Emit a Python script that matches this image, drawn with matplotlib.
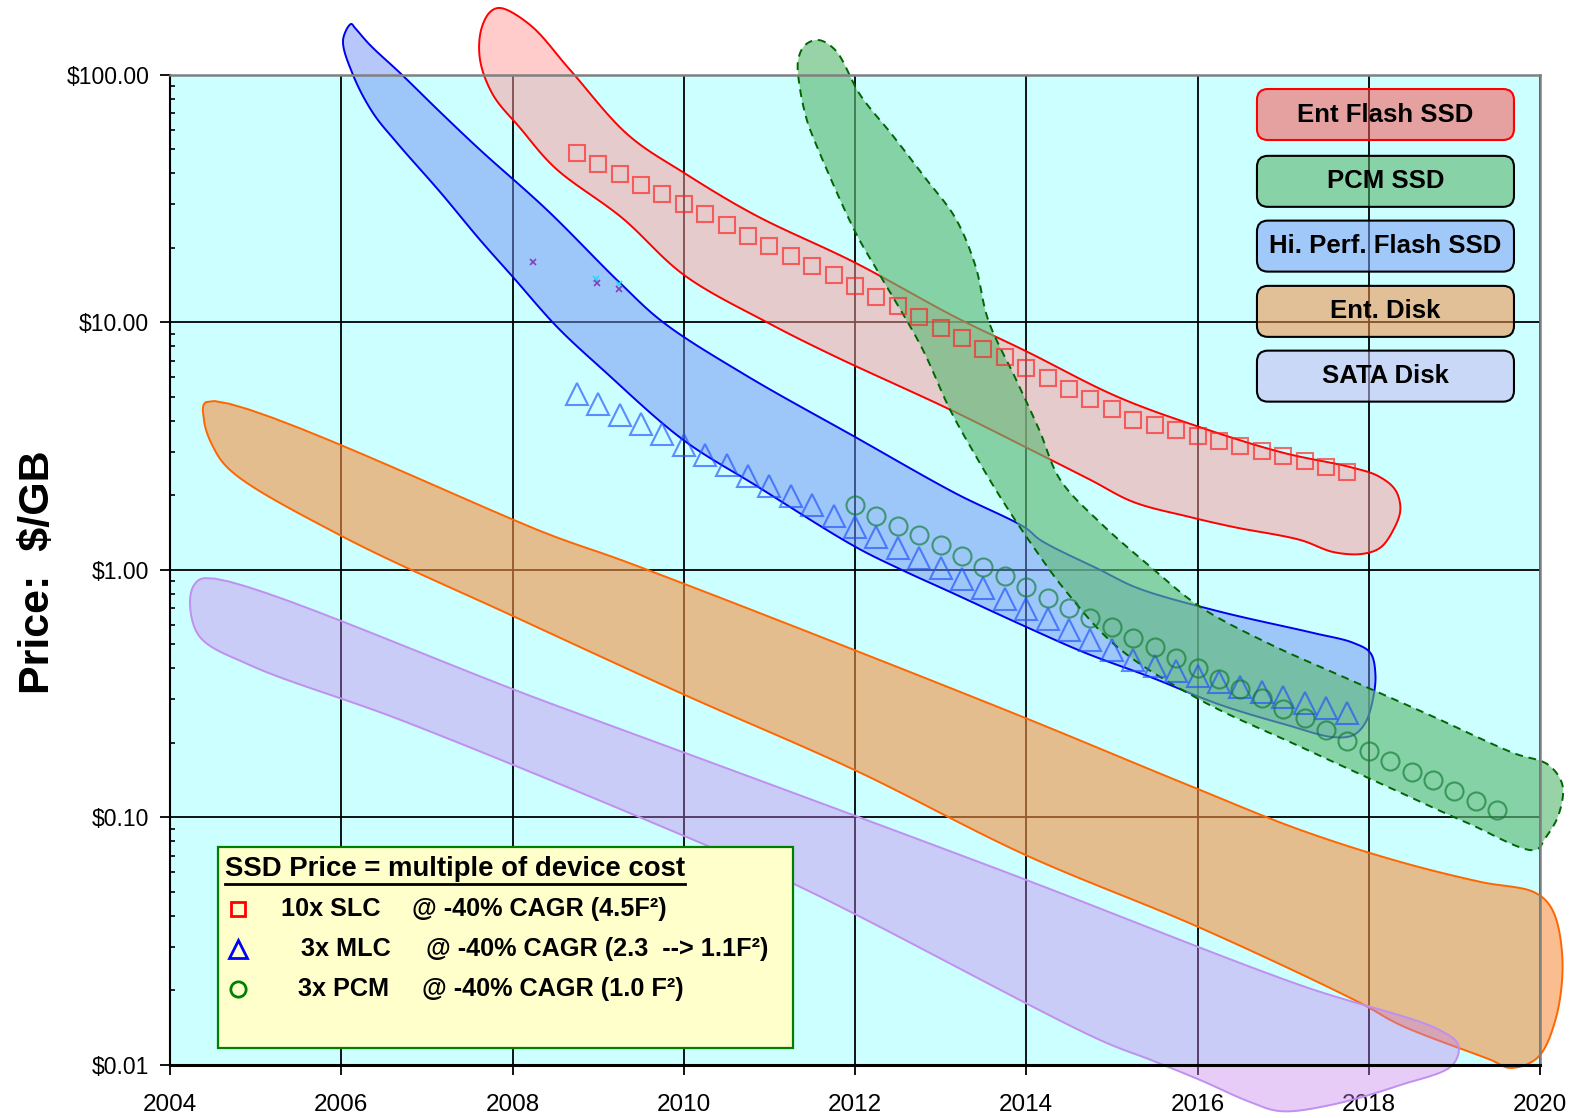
import numpy as np
import matplotlib
matplotlib.use("Agg")
import matplotlib.pyplot as plt
from matplotlib.patches import Polygon, FancyBboxPatch, Rectangle
from matplotlib.ticker import FixedLocator, LogLocator, NullFormatter

plt.rcParams['font.family'] = ['Liberation Sans', 'DejaVu Sans']

# ---------------- data ----------------
slc_years = [2008.75, 2009.0, 2009.25, 2009.5, 2009.75, 2010.0, 2010.25, 2010.5, 2010.75,
             2011.0, 2011.25, 2011.5, 2011.75, 2012.0, 2012.25, 2012.5, 2012.75, 2013.0,
             2013.25, 2013.5, 2013.75, 2014.0, 2014.25, 2014.5, 2014.75, 2015.0, 2015.25,
             2015.5, 2015.75, 2016.0, 2016.25, 2016.5, 2016.75, 2017.0, 2017.25, 2017.5, 2017.75]
slc_price = [48.2, 43.7, 39.6, 35.9, 33.1, 30.0, 27.3, 24.7, 22.4, 20.3, 18.5, 16.8, 15.5,
             14.0, 12.7, 11.6, 10.5, 9.51, 8.62, 7.82, 7.22, 6.56, 5.94, 5.39, 4.90, 4.45,
             4.03, 3.84, 3.66, 3.48, 3.32, 3.17, 3.02, 2.88, 2.74, 2.61, 2.49]

mlc_years = list(slc_years)
mlc_price = [5.15, 4.67, 4.23, 3.89, 3.53, 3.20, 2.92, 2.65, 2.40, 2.18, 1.98, 1.82, 1.65,
             1.49, 1.36, 1.23, 1.12, 1.02, 0.921, 0.843, 0.765, 0.697, 0.635, 0.574, 0.523,
             0.473, 0.431, 0.410, 0.392, 0.373, 0.354, 0.337, 0.321, 0.307, 0.291, 0.277, 0.265]

pcm_years = [2012.0, 2012.25, 2012.5, 2012.75, 2013.0, 2013.25, 2013.5, 2013.75, 2014.0,
             2014.25, 2014.5, 2014.75, 2015.0, 2015.25, 2015.5, 2015.75, 2016.0, 2016.25,
             2016.5, 2016.75, 2017.0, 2017.25, 2017.5, 2017.75, 2018.0, 2018.25, 2018.5,
             2018.75, 2019.0, 2019.25, 2019.5]
pcm_price = [1.83, 1.65, 1.50, 1.38, 1.26, 1.14, 1.03, 0.942, 0.853, 0.772, 0.702, 0.641,
             0.586, 0.533, 0.486, 0.440, 0.400, 0.362, 0.330, 0.303, 0.275, 0.252, 0.226,
             0.204, 0.186, 0.169, 0.153, 0.141, 0.128, 0.116, 0.107]

# stray marks
stray_years_purple = [2008.24, 2008.99, 2009.245]
stray_price_purple = [17.5, 14.4, 13.6]
stray_years_cyan = [2008.98, 2009.245]
stray_price_cyan = [15.0, 14.3]

# region outlines (year, $/GB)
ent_flash_years = [2007.855, 2008.206, 2008.673, 2009.350, 2010.005, 2010.834, 2012.002, 2013.171,
                   2014.008, 2015.060, 2016.009, 2017.002, 2017.785, 2018.112, 2018.311, 2018.369,
                   2018.287, 2018.136, 2017.925, 2017.586, 2017.201, 2016.418, 2015.893, 2015.250,
                   2014.748, 2014.008, 2013.121, 2011.730, 2010.986, 2010.005, 2009.280, 2008.498,
                   2008.089, 2007.773, 2007.621, 2007.633, 2007.738]
ent_flash_price = [186, 158.8, 104.5, 57.1, 40.1, 27.1, 17.4, 10.5, 7.61, 5.01, 3.79, 2.97, 2.60,
                   2.39, 2.10, 1.75, 1.45, 1.23, 1.16, 1.18, 1.32, 1.49, 1.64, 1.88, 2.31, 3.11,
                   4.42, 7.38, 9.94, 15.5, 26.4, 42.0, 60.9, 82.8, 114.7, 151.5, 179.1]

hiperf_years = [2006.115, 2006.021, 2006.138, 2006.371, 2006.652, 2007.154, 2007.621, 2008.007,
                2008.521, 2009.058, 2009.993, 2010.834, 2012.002, 2012.548, 2013.112, 2014.000,
                2014.689, 2015.449, 2016.266, 2017.049, 2017.586, 2017.820, 2017.960, 2018.054,
                2018.077, 2018.019, 2017.820, 2017.353, 2016.231, 2015.297, 2014.864, 2014.164,
                2013.988, 2013.171, 2012.002, 2010.717, 2009.759, 2009.257, 2008.404, 2007.621,
                2007.154, 2006.687, 2006.336, 2006.161]
hiperf_price = [160.3, 138.1, 99.7, 70.0, 53.0, 33.6, 21.5, 15.2, 9.57, 6.42, 3.35, 2.20, 1.24,
                0.999, 0.814, 0.588, 0.462, 0.369, 0.285, 0.236, 0.211, 0.215, 0.241, 0.307,
                0.383, 0.462, 0.507, 0.556, 0.682, 0.845, 0.999, 1.32, 1.48, 2.04, 3.44, 6.13,
                10.0, 14.4, 28.4, 49.7, 70.7, 101.6, 131.8, 154.4]

pcm_ssd_years = [2011.570, 2011.769, 2012.061, 2012.435, 2012.820, 2013.171, 2013.404, 2013.556,
                 2013.883, 2014.152, 2014.397, 2014.864, 2015.449, 2016.033, 2016.815, 2017.785,
                 2018.755, 2019.690, 2020.098, 2020.262, 2020.215, 2020.063, 2019.946, 2019.152,
                 2018.369, 2017.201, 2016.033, 2015.063, 2014.479, 2014.082, 2013.696, 2013.404,
                 2013.112, 2012.781, 2012.292, 2012.002, 2011.500, 2011.438, 2011.360, 2011.336,
                 2011.418]
pcm_ssd_price = [138.1, 125.8, 82.8, 57.1, 38.3, 26.4, 17.0, 10.2, 5.85, 3.67, 2.31, 1.55, 1.03,
                 0.708, 0.507, 0.359, 0.255, 0.182, 0.163, 0.135, 0.102, 0.0826, 0.0739, 0.0950,
                 0.126, 0.193, 0.298, 0.488, 0.807, 1.24, 1.97, 2.91, 4.42, 7.88, 15.5, 23.2,
                 57.1, 65.6, 86.7, 114.7, 131.8]

ent_disk_years = [2004.421, 2008.498, 2009.350, 2013.696, 2015.893, 2017.201, 2018.369, 2019.304,
                  2019.946, 2020.145, 2020.262, 2020.180, 2019.970, 2019.654, 2019.421, 2018.369,
                  2017.902, 2016.033, 2013.988, 2012.002, 2010.016, 2008.030, 2005.986, 2004.701,
                  2004.491, 2004.397]
ent_disk_price = [4.76, 1.36, 1.07, 0.277, 0.135, 0.0890, 0.0661, 0.0549, 0.0496, 0.0423, 0.0266,
                  0.0152, 0.0107, 0.00973, 0.0105, 0.0145, 0.0178, 0.0358, 0.0706, 0.155, 0.312,
                  0.645, 1.38, 2.53, 3.20, 4.03]

sata_years = [2004.409, 2008.498, 2013.696, 2017.201, 2018.836, 2019.047, 2018.977, 2018.369,
              2017.551, 2016.967, 2016.617, 2016.033, 2015.449, 2014.864, 2011.360, 2009.841,
              2006.687, 2004.935, 2004.350, 2004.234, 2004.280]
sata_price = [0.926, 0.284, 0.0613, 0.0210, 0.0138, 0.0120, 0.00999, 0.00830, 0.00689, 0.00651,
              0.00708, 0.00869, 0.0105, 0.0126, 0.0524, 0.0889, 0.248, 0.412, 0.535, 0.720, 0.867]

x_ticks = [2004, 2006, 2008, 2010, 2012, 2014, 2016, 2018, 2020]
y_ticks = [0.01, 0.1, 1, 10, 100]
y_tick_labels = ['\\$0.01', '\\$0.10', '\\$1.00', '\\$10.00', '\\$100.00']

cat_labels = ['Ent Flash SSD', 'PCM SSD', 'Hi. Perf. Flash SSD', 'Ent. Disk', 'SATA Disk']
legend_title = 'SSD Price = multiple of device cost'
legend_rows = [('10x SLC', '@ -40% CAGR (4.5F²)'),
               ('3x MLC', '@ -40% CAGR (2.3  --> 1.1F²)'),
               ('3x PCM', '@ -40% CAGR (1.0 F²)')]

# pixel-like scaling used only for smoothing outlines
SX, SY = 85.6, 247.6


def smooth_closed(xs, ys, n=14):
    P = np.column_stack([np.asarray(xs, float) * SX, np.log10(np.asarray(ys, float)) * SY])
    N = len(P)
    out = []
    for i in range(N):
        p0, p1, p2, p3 = P[(i - 1) % N], P[i], P[(i + 1) % N], P[(i + 2) % N]
        t0 = 0.0
        t1 = t0 + max(np.linalg.norm(p1 - p0), 1e-6) ** 0.5
        t2 = t1 + max(np.linalg.norm(p2 - p1), 1e-6) ** 0.5
        t3 = t2 + max(np.linalg.norm(p3 - p2), 1e-6) ** 0.5
        for t in np.linspace(t1, t2, n, endpoint=False):
            A1 = (t1 - t) / (t1 - t0) * p0 + (t - t0) / (t1 - t0) * p1
            A2 = (t2 - t) / (t2 - t1) * p1 + (t - t1) / (t2 - t1) * p2
            A3 = (t3 - t) / (t3 - t2) * p2 + (t - t2) / (t3 - t2) * p3
            B1 = (t2 - t) / (t2 - t0) * A1 + (t - t0) / (t2 - t0) * A2
            B2 = (t3 - t) / (t3 - t1) * A2 + (t - t1) / (t3 - t1) * A3
            C = (t2 - t) / (t2 - t1) * B1 + (t - t1) / (t2 - t1) * B2
            out.append(C)
    out = np.array(out)
    return np.column_stack([out[:, 0] / SX, 10 ** (out[:, 1] / SY)])


# ---------------- figure ----------------
fig = plt.figure(figsize=(15.75, 11.18), dpi=100)
ax = fig.add_axes([0.10794, 0.04741, 0.86984, 0.88578])
ax.set_facecolor('#ccffff')
ax.set_yscale('log')
ax.set_xlim(2004, 2020)
ax.set_ylim(0.01, 100)

ax.set_xticks(x_ticks)
ax.set_xticklabels([str(v) for v in x_ticks])
ax.set_yticks(y_ticks)
ax.set_yticklabels(y_tick_labels)
ax.yaxis.set_minor_locator(LogLocator(base=10, subs=np.arange(2, 10)))
ax.yaxis.set_minor_formatter(NullFormatter())
ax.tick_params(axis='both', which='major', direction='out', length=7, width=1.3, colors='black')
ax.tick_params(axis='x', which='major', pad=14, labelsize=17.5)
ax.tick_params(axis='y', which='major', pad=8, labelsize=16.5)
ax.tick_params(axis='y', which='minor', direction='in', length=3.5, width=1.2)
ax.tick_params(axis='x', which='minor', bottom=False)

ax.grid(True, which='major', color='black', linewidth=1.3, zorder=0)
ax.set_axisbelow(True)
for side in ['top', 'right']:
    ax.spines[side].set_color('#808080')
    ax.spines[side].set_linewidth(1.8)
ax.spines['left'].set_linewidth(1.5)
ax.spines['bottom'].set_linewidth(2.2)

# regions
regions = [
    (ent_disk_years, ent_disk_price, (0.96, 0.57, 0.27), 0.6, '#ff6600', '-'),
    (sata_years, sata_price, (0.76, 0.5, 0.93), 0.4, '#c090f0', '-'),
    (ent_flash_years, ent_flash_price, (1.0, 0.6, 0.6), 0.5, '#ff0000', '-'),
    (hiperf_years, hiperf_price, (0.44, 0.57, 0.96), 0.5, '#0000ee', '-'),
    (pcm_ssd_years, pcm_ssd_price, (0.38, 0.73, 0.47), 0.65, '#006600', (0, (4, 3))),
]
for i, (xs, ys, fc, a, ec, ls) in enumerate(regions):
    verts = smooth_closed(xs, ys)
    ax.add_patch(Polygon(verts, closed=True, facecolor=fc, alpha=a, edgecolor='none',
                         zorder=2 + i * 0.1, clip_on=False))
    ax.add_patch(Polygon(verts, closed=True, facecolor='none', edgecolor=ec, linewidth=1.4,
                         linestyle=ls, zorder=2.05 + i * 0.1, clip_on=False))

# markers
ax.plot(slc_years, slc_price, 's', ms=12, mfc='none', mec='#ff2020', mew=1.5, alpha=0.65, zorder=4)
ax.plot(mlc_years, mlc_price, '^', ms=16.5, mfc='none', mec='#2050ff', mew=1.5, alpha=0.65, zorder=4)
ax.plot(pcm_years, pcm_price, 'o', ms=13, mfc='none', mec='#107a30', mew=1.5, alpha=0.65, zorder=4)
ax.plot(stray_years_cyan, stray_price_cyan, 'x', ms=5, mec='#22ddee', mew=1.2, zorder=4)
ax.plot(stray_years_purple, stray_price_purple, 'x', ms=5, mec='#8040c0', mew=1.2, zorder=4)

# category boxes (right)
cat_face = [(0.985, 0.322, 0.322), (0.315, 0.68, 0.38), (0.485, 0.607, 0.951),
            (0.956, 0.551, 0.265), (0.771, 0.722, 0.936)]
cat_edge = ['#ff0000', 'black', 'black', 'black', 'black']
cat_cy = [0.9598, 0.8923, 0.8269, 0.7610, 0.6956]
bw, bh, bx = 0.1876, 0.0515, 0.7934
aspect = (0.86984 * 1575) / (0.88578 * 1118)
for lab, fc, ec, cy in zip(cat_labels, cat_face, cat_edge, cat_cy):
    ax.add_patch(FancyBboxPatch((bx, cy - bh / 2), bw, bh,
                                boxstyle='round,pad=0,rounding_size=0.008',
                                mutation_aspect=aspect, transform=ax.transAxes,
                                facecolor=fc + (0.55,), edgecolor=ec, linewidth=1.5, zorder=8))
    ax.text(bx + bw / 2, cy, lab, transform=ax.transAxes, ha='center', va='center',
            fontsize=18.5, fontweight='bold', zorder=9)

# yellow legend box
ax.add_patch(Rectangle((0.035, 0.0176), 0.4201, 0.2028, transform=ax.transAxes,
                       facecolor='#ffffcc', edgecolor='#008000', linewidth=1.6, zorder=10))
title_txt = ax.text(0.0401, 0.1981, legend_title, transform=ax.transAxes, ha='left', va='center',
                    fontsize=19.8, fontweight='bold', zorder=12)
row_y = [0.1575, 0.1169, 0.0763]
row_x1 = [0.0812, 0.0958, 0.0937]
row_x2 = [0.1765, 0.1868, 0.1839]
row_marker = [('s', '#ff0000', 10), ('^', '#0000ff', 13), ('o', '#008000', 11)]
for (a, b), y, x1, x2, (m, c, ms) in zip(legend_rows, row_y, row_x1, row_x2, row_marker):
    ax.plot([0.0497], [y], m, ms=ms, mfc='none', mec=c, mew=2, transform=ax.transAxes,
            zorder=12, clip_on=False)
    ax.text(x1, y, a, transform=ax.transAxes, ha='left', va='center', fontsize=18.2,
            fontweight='bold', zorder=12)
    ax.text(x2, y, b, transform=ax.transAxes, ha='left', va='center', fontsize=18.2,
            fontweight='bold', zorder=12)

fig.text(0.024, 0.488, 'Price:  $/GB', rotation=90, ha='center', va='center',
         fontsize=31, fontweight='bold')

fig.canvas.draw()
bb = title_txt.get_window_extent()
inv = ax.transAxes.inverted()
(x0, y0), (x1, y1) = inv.transform([[bb.x0, bb.y0], [bb.x1, bb.y1]])
ax.plot([x0, x1], [y0 - 0.002, y0 - 0.002], transform=ax.transAxes, color='black', lw=2,
        zorder=12, clip_on=False)

fig.savefig('out.png', dpi=100)
